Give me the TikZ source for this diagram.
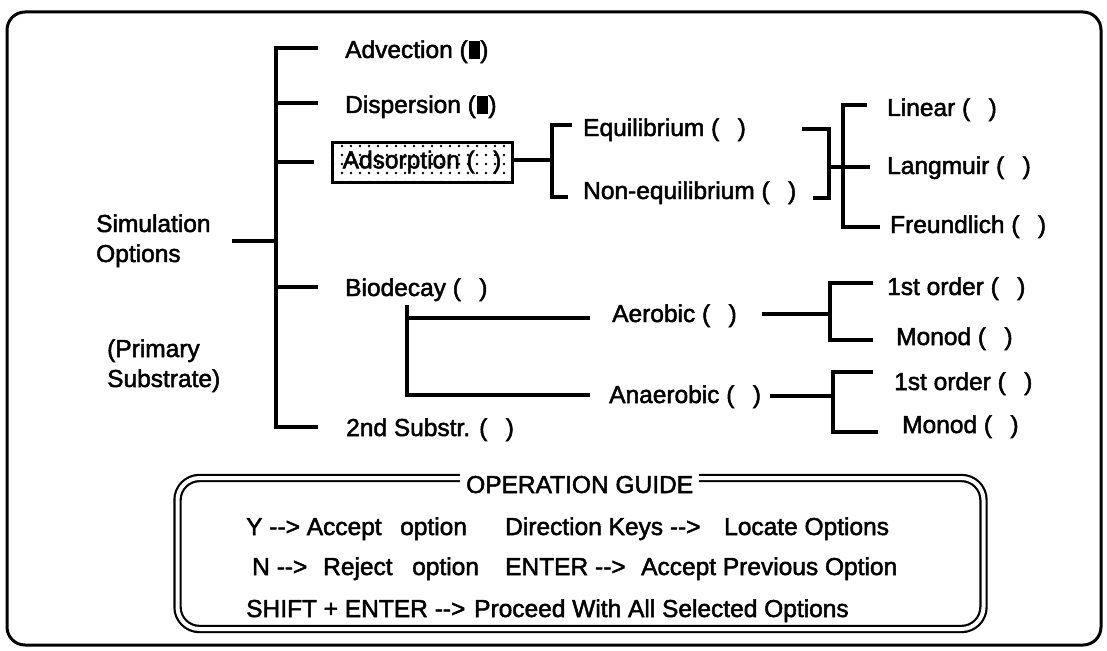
\documentclass[tikz,border=0pt]{standalone}
\usepackage{fontspec}
\setmainfont{Liberation Sans}
\newfontfamily\dfont{Liberation Sans}[FakeBold=2]
\usetikzlibrary{patterns.meta}
\newcommand\opt{(\hspace{0.75em})}
\newcommand\arr{-{}->}
\newcommand\blk{(\hspace{1.5pt}\rule[-1pt]{11pt}{18pt})}
\begin{document}
\begin{tikzpicture}[x=1pt,y=-1pt,
  lbl/.style={anchor=base west, inner sep=0pt, font=\dfont\fontsize{24.5}{28}\selectfont},
  tl/.style={line width=3.5pt, line cap=butt, line join=miter},
  frame/.style={line width=3pt, rounded corners=18pt},
  guidebox/.style={double, line width=2.2pt, double distance=4pt, rounded corners=22pt},
  selbox/.style={draw, line width=3pt, pattern={Dots[radius=1.3pt, distance=9pt]},
    minimum width=180pt, minimum height=40pt, inner sep=0pt,
    font=\dfont\fontsize{24.5}{28}\selectfont}]
\useasboundingbox (0,0) rectangle (1107,650);
\draw[frame] (7,12) rectangle (1101,645);

% left labels
\node[lbl] (sim) at (96,232) {Simulation};
\node[lbl] (opts) at (96,262) {Options};
\node[lbl] (prim) at (107,357) {(Primary};
\node[lbl] (subs) at (107,387) {Substrate)};

% first level
\node[lbl] (adv) at (345,58) {Advection \blk};
\node[lbl] (disp) at (345,113) {Dispersion \blk};
\node[selbox] (ads) at (422,162) {Adsorption \opt};
\node[lbl] (bio) at (345,296) {Biodecay \opt};
\node[lbl] (sec) at (346,436) {2nd Substr. \opt};

% second level
\node[lbl] (eq) at (583,136) {Equilibrium \opt};
\node[lbl] (neq) at (583,199) {Non-equilibrium \opt};
\node[lbl] (lin) at (887,116) {Linear \opt};
\node[lbl] (lang) at (887,174) {Langmuir \opt};
\node[lbl] (freu) at (890,233) {Freundlich \opt};
\node[lbl] (aer) at (612,322) {Aerobic \opt};
\node[lbl] (ana) at (609,403) {Anaerobic \opt};
\node[lbl] (fo1) at (887,295) {1st order \opt};
\node[lbl] (mo1) at (896,345) {Monod \opt};
\node[lbl] (fo2) at (894,390) {1st order \opt};
\node[lbl] (mo2) at (902,433) {Monod \opt};

% coordinates of the tree
\coordinate (simR) at (232,241);
\coordinate (j0) at (276,241);
\coordinate (tTop) at (276,48);
\coordinate (tBot) at (276,427);
\coordinate (advS) at (318,48);
\coordinate (secS) at (318,427);
\coordinate (dispJ) at (276,103);
\coordinate (dispS) at (318,103);
\coordinate (adsJ) at (276,162);
\coordinate (adsS) at (314,162);
\coordinate (bioJ) at (276,287);
\coordinate (bioS) at (318,287);

\draw[tl] (simR) -- (j0);
\draw[tl] (advS) -- (tTop) -- (tBot) -- (secS);
\draw[tl] (dispJ) -- (dispS);
\draw[tl] (adsJ) -- (adsS);
\draw[tl] (bioJ) -- (bioS);

% adsorption bracket
\coordinate (aJ) at (552,160);
\coordinate (aT) at (552,125);
\coordinate (aB) at (552,197);
\coordinate (aTS) at (572,125);
\coordinate (aBS) at (568,197);
\draw[tl] (ads.east |- aJ) -- (aJ);
\draw[tl] (aTS) -- (aT) -- (aB) -- (aBS);

% equilibrium join
\coordinate (eqS) at (802,129);
\coordinate (eqC) at (829,129);
\coordinate (neC) at (829,198);
\coordinate (neS) at (813,198);
\coordinate (lJ) at (829,167);
\coordinate (lS) at (870,167);
\draw[tl] (eqS) -- (eqC) -- (neC) -- (neS);
\draw[tl] (lJ) -- (lS);
\coordinate (iT) at (843,105);
\coordinate (iTS) at (867,105);
\coordinate (iB) at (843,227);
\coordinate (iBS) at (880,227);
\draw[tl] (iTS) -- (iT) -- (iB) -- (iBS);

% biodecay sub tree
\coordinate (bT) at (407,305);
\coordinate (bA) at (407,318);
\coordinate (bAS) at (590,318);
\coordinate (bB) at (407,395);
\coordinate (bBS) at (590,395);
\draw[tl] (bT) -- (bB) -- (bBS);
\draw[tl] (bA) -- (bAS);

% aerobic
\coordinate (arS) at (762,314);
\coordinate (arJ) at (830,314);
\coordinate (arT) at (830,283);
\coordinate (arTS) at (873,283);
\coordinate (arB) at (830,340);
\coordinate (arBS) at (873,340);
\draw[tl] (arS) -- (arJ);
\draw[tl] (arTS) -- (arT) -- (arB) -- (arBS);

% anaerobic
\coordinate (anS) at (770,396);
\coordinate (anJ) at (833,396);
\coordinate (anT) at (833,372);
\coordinate (anTS) at (873,372);
\coordinate (anB) at (833,432);
\coordinate (anBS) at (878,432);
\draw[tl] (anS) -- (anJ);
\draw[tl] (anTS) -- (anT) -- (anB) -- (anBS);

% operation guide
\draw[guidebox] (177.5,478) rectangle (983.5,629);
\node[lbl, fill=white, inner xsep=6pt, inner ysep=4pt] (guide) at (460,493) {OPERATION GUIDE};
\node[lbl] (g1a) at (246,535) {Y \arr{} Accept};
\node[lbl] (g1b) at (400,535) {option};
\node[lbl] (g1c) at (505,535) {Direction Keys \arr};
\node[lbl] (g1d) at (724,535) {Locate Options};
\node[lbl] (g2a) at (252,575) {N \arr};
\node[lbl] (g2b) at (323,575) {Reject};
\node[lbl] (g2c) at (412,575) {option};
\node[lbl] (g2d) at (505,575) {ENTER \arr};
\node[lbl] (g2e) at (641,575) {Accept Previous Option};
\node[lbl] (g3a) at (246,617) {SHIFT + ENTER \arr};
\node[lbl] (g3b) at (474,617) {Proceed With All Selected Options};
\end{tikzpicture}
\end{document}
